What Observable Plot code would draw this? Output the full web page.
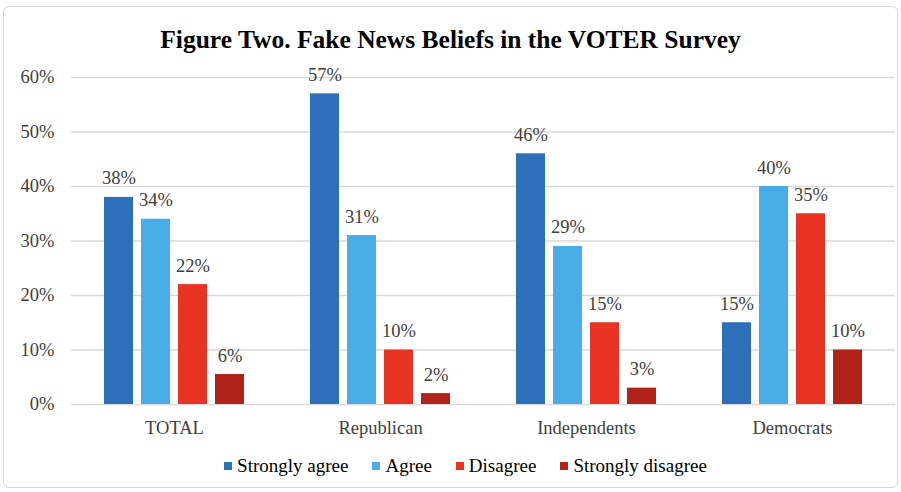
<!DOCTYPE html>
<html>
<head>
<meta charset="utf-8">
<script src="https://cdn.jsdelivr.net/npm/d3@7"></script>
<script src="https://cdn.jsdelivr.net/npm/@observablehq/plot@0.6"></script>
<style>
  html, body { margin: 0; padding: 0; background: #fff; }
  #frame {
    position: relative; width: 895px; height: 482px; margin: 6px 0 0 3px;
    border: 1px solid #d9d9d9; border-radius: 6px; box-sizing: border-box;
    font-family: "Liberation Serif", serif; overflow: hidden;
  }
  #title {
    position: absolute; left: 0; right: 0; top: 18px; text-align: center;
    font-family: "Liberation Serif", serif;
    font-weight: bold; font-size: 25.5px; color: #000;
  }
  #chart { position: absolute; left: -3px; top: 54px; width: 901px; }
  #chart svg { max-width: none !important; }
  #chart svg, #chart svg text { font-family: "Liberation Serif", serif !important; }
  #legend {
    position: absolute; left: 30px; right: 0; top: 448px; display: flex; justify-content: center;
    gap: 24px; font-size: 19px; color: #000; font-family: "Liberation Serif", serif;
  }
  #legend span.item { display: inline-flex; align-items: center; gap: 5px; }
  #legend span.sw { display: inline-block; width: 8px; height: 8px; }
</style>
</head>
<body>
<div id="frame">
  <div id="title">Figure Two. Fake News Beliefs in the VOTER Survey</div>
  <div id="chart"></div>
  <div id="legend"></div>
</div>
<script>
const categories = ["TOTAL", "Republican", "Independents", "Democrats"];
const responses = ["Strongly agree", "Agree", "Disagree", "Strongly disagree"];
const colors = ["#2E6FB9", "#4BADE8", "#E93323", "#AF2318"];
const stronglyAgree = [38, 57, 46, 15];
const agree = [34, 31, 29, 40];
const disagree = [22, 10, 15, 35];
const stronglyDisagree = [5.5, 2, 3, 10];
const yTicks = [0, 10, 20, 30, 40, 50, 60];

const series = [stronglyAgree, agree, disagree, stronglyDisagree];
const data = [];
categories.forEach((c, i) => {
  responses.forEach((r, j) => {
    data.push({category: c, response: r, value: series[j][i], label: Math.round(series[j][i]) + "%"});
  });
});

const plot = Plot.plot({
  width: 901,
  height: 380,
  marginLeft: 69,
  marginRight: 7,
  marginTop: 16,
  marginBottom: 37,
  style: {fontSize: "18.5px", color: "#404040", background: "transparent"},
  fx: {domain: categories, padding: 0, label: null, axis: "bottom", tickSize: 0, tickPadding: 16},
  x: {domain: responses, axis: null, paddingInner: 0.21, paddingOuter: 0.858},
  y: {domain: [0, 60], ticks: yTicks, tickFormat: d => d + "%", label: null, tickSize: 0, tickPadding: 17},
  color: {domain: responses, range: colors},
  marks: [
    Plot.ruleY(yTicks, {stroke: "#d9d9d9", strokeWidth: 1.5}),
    Plot.barY(data, {fx: "category", x: "response", y: "value", fill: "response"}),
    Plot.text(data, {fx: "category", x: "response", y: "value", text: "label", lineAnchor: "bottom", dy: -13, fill: "#404040", fontSize: 18.5})
  ]
});
document.getElementById("chart").appendChild(plot);

const legend = document.getElementById("legend");
responses.forEach((r, j) => {
  const item = document.createElement("span");
  item.className = "item";
  const sw = document.createElement("span");
  sw.className = "sw";
  sw.style.background = colors[j];
  item.appendChild(sw);
  item.appendChild(document.createTextNode(r));
  legend.appendChild(item);
});
</script>
</body>
</html>
